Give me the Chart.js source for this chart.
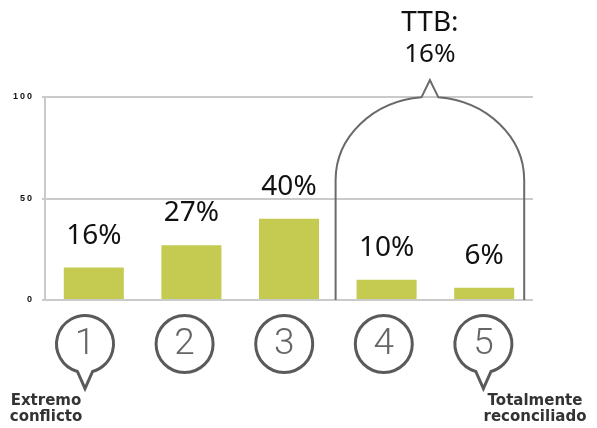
<!DOCTYPE html>
<html>
<head>
<meta charset="utf-8">
<script src="https://cdn.jsdelivr.net/npm/chart.js@4"></script>
<style>
  html, body { margin: 0; padding: 0; background: #fff; }
  #wrap { width: 597px; height: 428px; position: relative; }
</style>
</head>
<body>
<div id="wrap"><canvas id="chart-scale"></canvas></div>
<script>
// values
const categories = ['1', '2', '3', '4', '5'];
const shares = [16, 27, 40, 10, 6];
const yTicks = [0, 50, 100];
const ttbLabel = ['TTB:', '16%'];
const leftEndLabel = ['Extremo', 'conflicto'];
const rightEndLabel = ['Totalmente', 'reconciliado'];

const BAR = '#c4cb50';
const GRID = '#cacaca';
const INK = '#5a5a5a';

// letter spaced y tick labels
const spacing = {
  id: 'spacing',
  beforeDraw(chart) { chart.ctx.letterSpacing = '2px'; },
  beforeDatasetsDraw(chart) { chart.ctx.letterSpacing = '0px'; }
};

function bubble(ctx, cx, cy, r, tail) {
  ctx.beginPath();
  if (tail) {
    const a = 0.27;
    ctx.arc(cx, cy, r, Math.PI / 2 + a, Math.PI / 2 - a + Math.PI * 2);
    ctx.lineTo(cx, cy + r + 16);
    ctx.closePath();
  } else {
    ctx.arc(cx, cy, r, 0, Math.PI * 2);
  }
  ctx.stroke();
}

const overlay = {
  id: 'overlay',
  afterDatasetsDraw(chart) {
    const { ctx, chartArea: area, scales: { x, y } } = chart;
    const meta = chart.getDatasetMeta(0);
    ctx.save();

    // percent labels above bars
    ctx.fillStyle = '#111';
    ctx.font = '28px "Noto Sans", "Open Sans", sans-serif';
    ctx.textAlign = 'center';
    ctx.textBaseline = 'alphabetic';
    meta.data.forEach((bar, i) => {
      ctx.fillText(shares[i] + '%', bar.x, bar.y - 24);
    });

    // TTB arch around the last two bars
    const left = x.getPixelForValue(3) - 51;
    const right = x.getPixelForValue(4) + 40;
    const mid = (left + right) / 2;
    const top = y.getPixelForValue(100);
    const shoulder = y.getPixelForValue(59);
    const rx = (right - left) / 2;
    const ry = shoulder - top;
    ctx.strokeStyle = '#6a6a6a';
    ctx.lineWidth = 2;
    ctx.beginPath();
    ctx.moveTo(left, area.bottom);
    ctx.lineTo(left, shoulder);
    ctx.ellipse(mid, shoulder, rx, ry, 0, Math.PI, Math.PI * 1.5 - 0.09);
    ctx.lineTo(mid, top - 17);
    ctx.ellipse(mid, shoulder, rx, ry, 0, Math.PI * 1.5 + 0.09, Math.PI * 2);
    ctx.lineTo(right, area.bottom);
    ctx.stroke();

    ctx.fillStyle = '#111';
    ctx.font = '28px "Noto Sans", "Open Sans", sans-serif';
    ctx.fillText(ttbLabel[0], mid, 31);
    ctx.font = '26px "Noto Sans", "Open Sans", sans-serif';
    ctx.fillText(ttbLabel[1], mid, 62);

    // numbered bubbles under the axis
    const cy = area.bottom + 44;
    ctx.strokeStyle = INK;
    ctx.lineWidth = 3;
    categories.forEach((c, i) => {
      const cx = area.left + 40 + i * 99.6;
      bubble(ctx, cx, cy, 28.5, i === 0 || i === categories.length - 1);
      ctx.fillStyle = '#666';
      ctx.font = '300 37px Roboto, "Open Sans", sans-serif';
      ctx.textBaseline = 'middle';
      ctx.fillText(c, cx, cy + 1);
    });

    // end captions
    ctx.fillStyle = '#333';
    ctx.font = 'bold 15px "DejaVu Sans", sans-serif';
    ctx.textBaseline = 'alphabetic';
    ctx.fillText(leftEndLabel[0], area.left + 1, 405);
    ctx.fillText(leftEndLabel[1], area.left + 1, 421);
    ctx.fillText(rightEndLabel[0], area.right + 2, 405);
    ctx.fillText(rightEndLabel[1], area.right + 2, 421);
    ctx.restore();
  }
};

new Chart(document.getElementById('chart-scale'), {
  type: 'bar',
  data: {
    labels: categories,
    datasets: [{
      data: shares,
      backgroundColor: BAR,
      borderWidth: 0,
      barPercentage: 0.615,
      categoryPercentage: 1
    }]
  },
  options: {
    responsive: true,
    maintainAspectRatio: false,
    animation: false,
    layout: { padding: { top: 97, right: 64, bottom: 128, left: 0 } },
    plugins: { legend: { display: false }, tooltip: { enabled: false } },
    scales: {
      x: { display: false },
      y: {
        min: 0,
        max: 100,
        afterFit: s => { s.width = 45; },
        afterBuildTicks: s => { s.ticks = yTicks.map(v => ({ value: v })); },
        border: { display: true, color: GRID, width: 2 },
        grid: { color: GRID, lineWidth: 2, tickLength: 3 },
        ticks: {
          padding: 8,
          color: '#111',
          font: { family: '"Liberation Sans", Arial, sans-serif', size: 9, weight: 'bold' }
        }
      }
    }
  },
  plugins: [spacing, overlay]
});
</script>
</body>
</html>
